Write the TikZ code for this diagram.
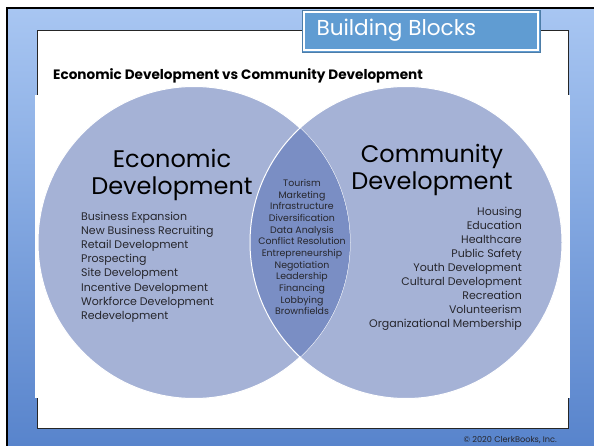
\documentclass[tikz,border=0pt]{standalone}
\usepackage{fontspec}
\setmainfont{Poppins}
\usepackage{xcolor}
\definecolor{bgtop}{RGB}{168,198,242}
\definecolor{bgbot}{RGB}{88,132,204}
\definecolor{titleblue}{RGB}{96,156,210}
\definecolor{circfill}{RGB}{165,178,214}
\definecolor{lensfill}{RGB}{122,142,196}
\definecolor{inktext}{RGB}{38,38,44}
\usepackage{tikz}
\usetikzlibrary{positioning}
\tikzstyle{frame} = [
    draw=black!85,
    line width=0.8pt,
]
\tikzstyle{circ} = [
    circle, minimum size=312pt, inner sep=0pt,
    fill=circfill,
]
\tikzstyle{heading} = [
    align=center, inner sep=0pt,
    font=\fontsize{24}{27}\selectfont,
]
\tikzstyle{item} = [
    inner sep=0pt, text height=0.75em, text depth=0.25em,
    text=inktext,
    font=\fontsize{11}{12}\selectfont,
]
\tikzstyle{lensitem} = [
    item,
    font=\fontsize{9.4}{10}\selectfont,
]

\begin{document}
\begin{tikzpicture}[x=1pt,y=-1pt]
    \useasboundingbox (0,0) rectangle (594,446);
    % slide background
    \shade[top color=bgtop, bottom color=bgbot] (7,8) rectangle (594,446);
    \draw[black, line width=1.5pt] (7,446) -- (7,8) -- (594,8);
    \fill[white] (37,30) rectangle (568,428);
    \draw[frame] (37,30) rectangle (568,428);
    \fill[white] (35,95) rectangle (570,398);

    % title
    \node (title) at (421,31) [draw=titleblue!80!black, line width=0.4pt, fill=titleblue,
        minimum width=238pt, minimum height=42pt, inner sep=0pt] {};
    \draw[white, line width=2pt] ([shift={(2.5pt,2.5pt)}]title.south west) rectangle ([shift={(-2.5pt,-2.5pt)}]title.north east);
    \node (titletext) at (313,30) [anchor=west, text=white, font=\fontsize{21.6}{24}\selectfont] {Building Blocks};
    \node (subtitle) at (53,80) [anchor=base west, inner sep=0pt, font=\bfseries\fontsize{13.6}{15}\selectfont] {Economic Development vs Community Development};

    % circles
    \node (econ) at (194,242.5) [circ] {};
    \node (comm) at (406,242.5) [circ] {};
    \draw[white, line width=1pt] (econ) circle (156pt);
    \begin{scope}
        \clip (194,242.5) circle (156pt);
        \fill[lensfill] (406,242.5) circle (156pt);
    \end{scope}
    \draw[white, line width=1pt] (comm) circle (156pt);

    % headings
    \node (econhead) at (172,175) [heading] {Economic\\Development};
    \node (commhead) at (432,170) [heading] {Community\\Development};

    % lists
    \foreach \word[count=\x] in {Business Expansion,New Business Recruiting,Retail Development,Prospecting,Site Development,Incentive Development,Workforce Development,Redevelopment} {
        \node (econ\x) at (81, 218+14.1*\x-14.1) [item, anchor=west] {\word};
    }
    \foreach \word[count=\x] in {Tourism,Marketing,Infrastructure,Diversification,Data Analysis,Conflict Resolution,Entrepreneurship,Negotiation,Leadership,Financing,Lobbying,Brownfields} {
        \node (lens\x) at (302, 184+11.65*\x-11.65) [lensitem] {\word};
    }
    \foreach \word[count=\x] in {Housing,Education,Healthcare,Public Safety,Youth Development,Cultural Development,Recreation,Volunteerism,Organizational Membership} {
        \node (comm\x) at (522, 213+14*\x-14) [item, anchor=east] {\word};
    }

    % footer
    \node (copyright) at (557,440) [anchor=east, inner sep=0pt, text=inktext, font=\fontsize{8.2}{9}\selectfont] {© 2020 ClerkBooks, Inc.};
\end{tikzpicture}
\end{document}
